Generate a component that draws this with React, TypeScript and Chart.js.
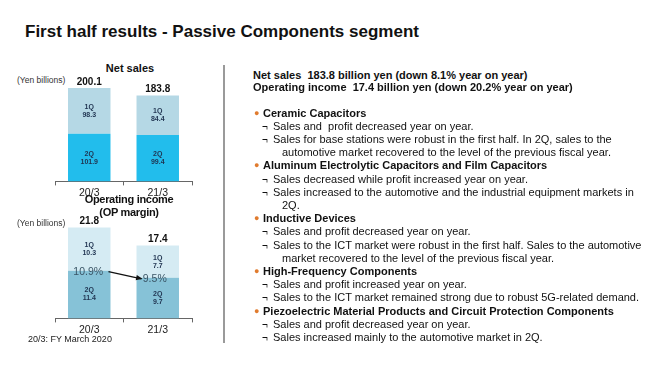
import React, { useEffect, useRef } from "react";
import { Chart, registerables } from "chart.js";

Chart.register(...registerables);

const categories = ["20/3", "21/3"];
const salesQ1 = [98.3, 84.4];
const salesQ2 = [101.9, 99.4];
const salesTotal = ["200.1", "183.8"];
const opQ1 = [10.3, 7.7];
const opQ2 = [11.4, 9.7];
const opTotal = ["21.8", "17.4"];
const opMargin = ["10.9%", "9.5%"];

const FONT = "'Liberation Sans', Arial, sans-serif";

const salesColors = { q2: "#22bdec", q1: "#b5d8e5" };
const opColors = { q2: "#86c2d7", q1: "#d5ebf3" };

type Line = { t: string; kind: "head" | "bullet" | "sub" | "cont"; y: number };
const lines: Line[] = [
  { t: "Net sales  183.8 billion yen (down 8.1% year on year)", kind: "head", y: 75 },
  { t: "Operating income  17.4 billion yen (down 20.2% year on year)", kind: "head", y: 87 },
  { t: "Ceramic Capacitors", kind: "bullet", y: 113 },
  { t: "Sales and  profit decreased year on year.", kind: "sub", y: 126.2 },
  { t: "Sales for base stations were robust in the first half. In 2Q, sales to the", kind: "sub", y: 139.4 },
  { t: "automotive market recovered to the level of the previous fiscal year.", kind: "cont", y: 152.6 },
  { t: "Aluminum Electrolytic Capacitors and Film Capacitors", kind: "bullet", y: 165.8 },
  { t: "Sales decreased while profit increased year on year.", kind: "sub", y: 179 },
  { t: "Sales increased to the automotive and the industrial equipment markets in", kind: "sub", y: 192.2 },
  { t: "2Q.", kind: "cont", y: 205.4 },
  { t: "Inductive Devices", kind: "bullet", y: 218.6 },
  { t: "Sales and profit decreased year on year.", kind: "sub", y: 231.8 },
  { t: "Sales to the ICT market were robust in the first half. Sales to the automotive", kind: "sub", y: 245 },
  { t: "market recovered to the level of the previous fiscal year.", kind: "cont", y: 258.2 },
  { t: "High-Frequency Components", kind: "bullet", y: 271.4 },
  { t: "Sales and profit increased year on year.", kind: "sub", y: 284.6 },
  { t: "Sales to the ICT market remained strong due to robust 5G-related demand.", kind: "sub", y: 297.8 },
  { t: "Piezoelectric Material Products and Circuit Protection Components", kind: "bullet", y: 311 },
  { t: "Sales and profit decreased year on year.", kind: "sub", y: 324.2 },
  { t: "Sales increased mainly to the automotive market in 2Q.", kind: "sub", y: 337.4 },
];

function makeLabelPlugin(totals: string[], margins: string[] | null) {
  return {
    id: "segLabels",
    afterDatasetsDraw(chart: any) {
      const ctx = chart.ctx;
      ctx.save();
      ctx.textAlign = "center";
      ctx.textBaseline = "middle";
      const names = ["2Q", "1Q"];
      chart.data.datasets.forEach((ds: any, di: number) => {
        const meta = chart.getDatasetMeta(di);
        meta.data.forEach((bar: any, i: number) => {
          const cy = (bar.y + bar.base) / 2;
          ctx.fillStyle = "#1f3350";
          ctx.font = `bold 7px ${FONT}`;
          ctx.fillText(names[di], bar.x, cy - 4);
          ctx.fillText(ds.data[i].toFixed(1), bar.x, cy + 4);
        });
      });
      const top = chart.getDatasetMeta(chart.data.datasets.length - 1);
      top.data.forEach((bar: any, i: number) => {
        ctx.fillStyle = "#111";
        ctx.font = `bold 10px ${FONT}`;
        ctx.fillText(totals[i], bar.x, bar.y - 6);
      });
      if (margins) {
        const base = chart.getDatasetMeta(0).data;
        ctx.font = `10.5px ${FONT}`;
        ctx.fillStyle = "#3a5566";
        base.forEach((bar: any, i: number) => {
          ctx.fillText(margins[i], bar.x - 1 - i * 2, bar.y + 1);
        });
        const b0 = base[0];
        const b1 = base[1];
        const x0 = b0.x + b0.width / 2 - 2;
        const y0 = b0.y + 1;
        const x1 = b1.x - b1.width / 2 + 5;
        const y1 = b1.y + 1;
        ctx.strokeStyle = "#111";
        ctx.fillStyle = "#111";
        ctx.lineWidth = 1.3;
        ctx.beginPath();
        ctx.moveTo(x0, y0);
        ctx.lineTo(x1, y1);
        ctx.stroke();
        const ang = Math.atan2(y1 - y0, x1 - x0);
        ctx.beginPath();
        ctx.moveTo(x1 + 1, y1);
        ctx.lineTo(x1 - 6 * Math.cos(ang - 0.45), y1 - 6 * Math.sin(ang - 0.45));
        ctx.lineTo(x1 - 6 * Math.cos(ang + 0.45), y1 - 6 * Math.sin(ang + 0.45));
        ctx.closePath();
        ctx.fill();
      }
      ctx.restore();
    },
  };
}

function StackChart(props: {
  q1: number[];
  q2: number[];
  colors: { q1: string; q2: string };
  max: number;
  padTop: number;
  totals: string[];
  margins: string[] | null;
  width: number;
  height: number;
}) {
  const ref = useRef<HTMLCanvasElement | null>(null);
  useEffect(() => {
    if (!ref.current) return;
    const chart = new Chart(ref.current, {
      type: "bar",
      data: {
        labels: categories,
        datasets: [
          { label: "2Q", data: props.q2, backgroundColor: props.colors.q2, categoryPercentage: 1, barPercentage: 0.62 },
          { label: "1Q", data: props.q1, backgroundColor: props.colors.q1, categoryPercentage: 1, barPercentage: 0.62 },
        ],
      },
      options: {
        animation: false,
        responsive: false,
        devicePixelRatio: 1,
        layout: { padding: { top: props.padTop, left: 55, right: 32, bottom: 0 } },
        plugins: { legend: { display: false }, tooltip: { enabled: false }, title: { display: false } },
        scales: {
          x: {
            stacked: true,
            offset: true,
            grid: { drawOnChartArea: false, drawTicks: true, tickLength: 4, offset: true, color: "#666" },
            border: { display: true, color: "#666", width: 1 },
            ticks: { color: "#222", font: { size: 10.5, family: FONT }, padding: 1 },
          },
          y: { stacked: true, display: false, min: 0, max: props.max },
        },
      },
      plugins: [makeLabelPlugin(props.totals, props.margins)],
    });
    return () => chart.destroy();
  }, []);
  return <canvas ref={ref} width={props.width} height={props.height} style={{ width: props.width, height: props.height, display: "block" }} />;
}

const abs = (x: number, y: number, extra: any = {}) => ({ position: "absolute" as const, left: x, top: y, whiteSpace: "pre" as const, ...extra });

export default function App() {
  return (
    <div style={{ position: "fixed", left: 0, top: 0, width: 660, height: 371, background: "#fff", fontFamily: FONT, color: "#111", overflow: "hidden" }}>
      <div style={abs(25, 21, { fontSize: 17, fontWeight: "bold", lineHeight: "22px" })}>First half results - Passive Components segment</div>

      <div style={abs(0, 61, { width: 260, textAlign: "center", fontSize: 11, fontWeight: "bold", lineHeight: "14px" })}>Net sales</div>
      <div style={abs(17, 74, { fontSize: 8.5, lineHeight: "12px", color: "#333" })}>(Yen billions)</div>
      <div style={{ position: "absolute", left: 0, top: 60 }}>
        <StackChart q1={salesQ1} q2={salesQ2} colors={salesColors} max={230} padTop={14} totals={salesTotal} margins={null} width={224} height={140} />
      </div>

      <div style={{ position: "absolute", left: 0, top: 193, width: 258, textAlign: "center", fontSize: 11, fontWeight: "bold", lineHeight: "13px", letterSpacing: "-0.3px" }}>Operating income<br />(OP margin)</div>
      <div style={abs(17, 217, { fontSize: 8.5, lineHeight: "12px", color: "#333" })}>(Yen billions)</div>
      <div style={{ position: "absolute", left: 0, top: 200 }}>
        <StackChart q1={opQ1} q2={opQ2} colors={opColors} max={26} padTop={9.5} totals={opTotal} margins={opMargin} width={224} height={137} />
      </div>
      <div style={abs(28, 333, { fontSize: 9, lineHeight: "12px", color: "#222" })}>20/3: FY March 2020</div>

      <div style={{ position: "absolute", left: 223, top: 65, width: 2, height: 278, background: "#9a9a9a" }} />

      {lines.map((l, i) => {
        const top = l.y - 6.5;
        if (l.kind === "head")
          return <div key={i} style={abs(253, top, { fontSize: 11, fontWeight: "bold", lineHeight: "13px" })}>{l.t}</div>;
        if (l.kind === "bullet")
          return (
            <React.Fragment key={i}>
              <div style={abs(254, top, { fontSize: 9, lineHeight: "13px", color: "#e07b2e" })}>●</div>
              <div style={abs(263, top, { fontSize: 11, fontWeight: "bold", lineHeight: "13px" })}>{l.t}</div>
            </React.Fragment>
          );
        if (l.kind === "sub")
          return (
            <React.Fragment key={i}>
              <div style={abs(262, top, { fontSize: 10, lineHeight: "13px" })}>¬</div>
              <div style={abs(273, top, { fontSize: 11, lineHeight: "13px" })}>{l.t}</div>
            </React.Fragment>
          );
        return <div key={i} style={abs(282, top, { fontSize: 11, lineHeight: "13px" })}>{l.t}</div>;
      })}
    </div>
  );
}
